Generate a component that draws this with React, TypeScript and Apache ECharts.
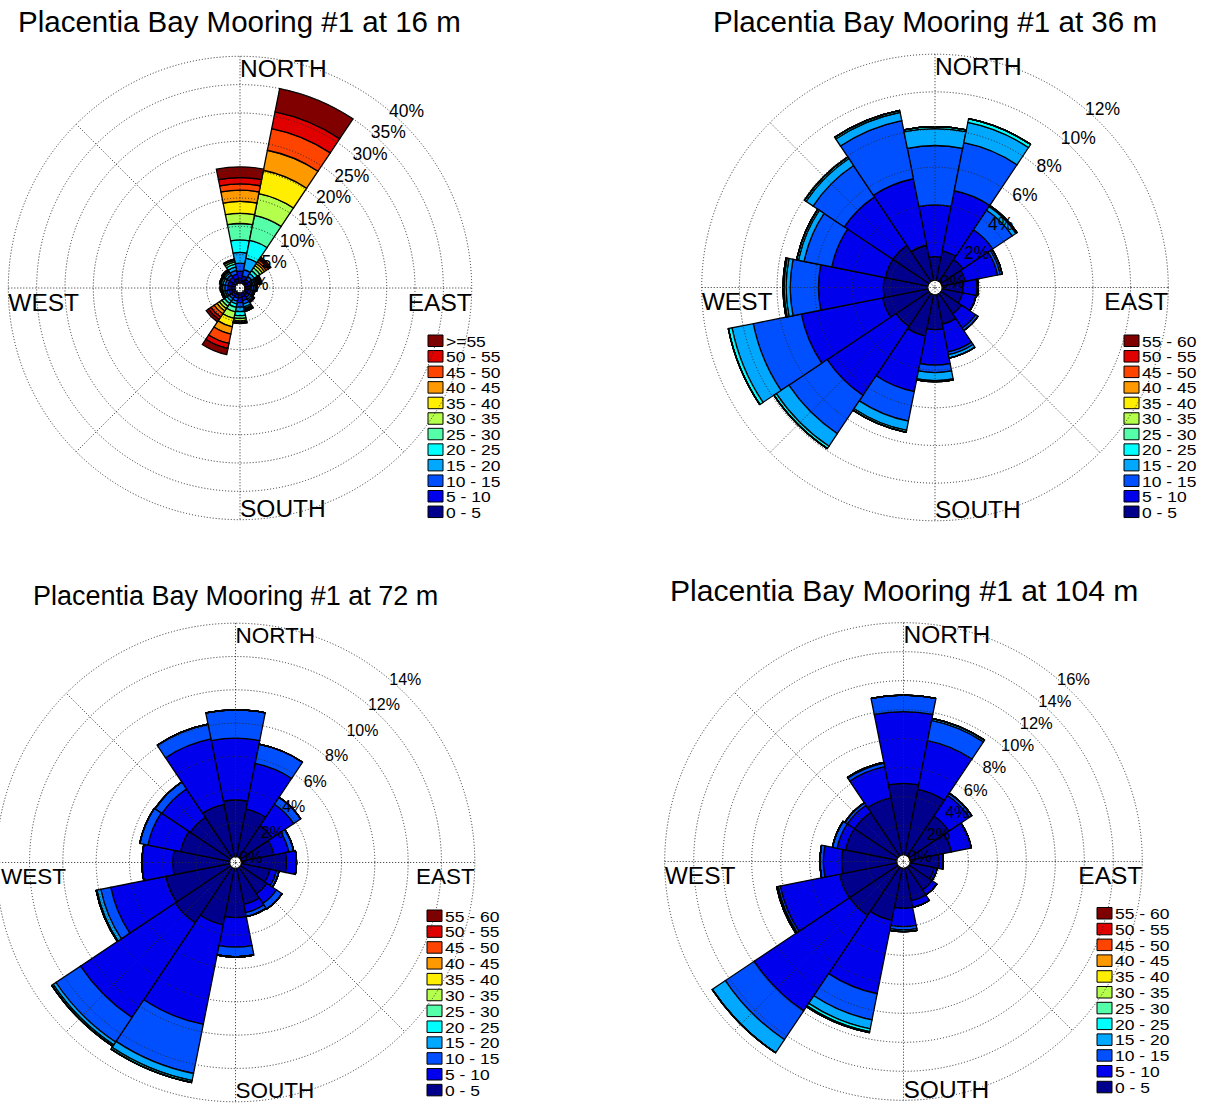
import React, { useEffect, useRef } from 'react';
import * as echarts from 'echarts';

// Compass sectors, clockwise from north (22.5° each)
const DIRECTIONS = ['N', 'NNE', 'NE', 'ENE', 'E', 'ESE', 'SE', 'SSE', 'S', 'SSW', 'SW', 'WSW', 'W', 'WNW', 'NW', 'NNW'];

// Current speed classes (cm/s)
const SPEED_BINS = ['0 - 5', '5 - 10', '10 - 15', '15 - 20', '20 - 25', '25 - 30', '30 - 35', '35 - 40', '40 - 45', '45 - 50', '50 - 55', '55 - 60'];
const SPEED_BINS_OPEN = ['0 - 5', '5 - 10', '10 - 15', '15 - 20', '20 - 25', '25 - 30', '30 - 35', '35 - 40', '40 - 45', '45 - 50', '50 - 55', '>=55'];

const BIN_COLORS = ['#00008c', '#0000ec', '#0050ff', '#00a8ff', '#00ffff', '#55ffaa', '#b4ff4c', '#ffee00', '#ff9900', '#ff4400', '#e00000', '#800000'];

// Occurrence (%) per direction (rows, N..NNW) and speed class (columns); missing classes are 0
const FREQ_16M = [
  [0.8, 1.3, 1.4, 1.9, 2.2, 2.9, 1.8, 2.1, 2.0, 1.1, 1.1, 1.9],
  [0.5, 0.8, 1.1, 2.1, 3.2, 4.5, 3.9, 4.2, 3.6, 3.9, 3.0, 4.2],
  [0.5, 0.5, 0.6, 0.6, 0.6, 0.6, 0.5, 0.4, 0.4, 0.4, 0.3, 0.3],
  [0.6, 0.5, 0.4, 0.3, 0.3, 0.2, 0.2, 0.2, 0.1, 0.1, 0.1, 0.1],
  [0.6, 0.5, 0.4, 0.3, 0.2, 0.1],
  [0.6, 0.5, 0.3, 0.2, 0.1, 0.1],
  [0.6, 0.5, 0.4, 0.3, 0.2, 0.1, 0.1],
  [0.7, 0.7, 0.6, 0.5, 0.3, 0.2, 0.1, 0.1, 0.1],
  [0.8, 0.9, 0.8, 0.8, 0.7, 0.5, 0.4, 0.2, 0.1, 0.1, 0.05, 0.05],
  [0.4, 0.5, 0.6, 0.5, 0.6, 0.8, 1.2, 1.5, 1.3, 1.7, 0.9, 1.1],
  [0.4, 0.5, 0.5, 0.5, 0.5, 0.6, 0.5, 0.5, 0.6, 0.7, 0.5, 0.5],
  [0.6, 0.5, 0.4, 0.3, 0.3, 0.2, 0.1, 0.1],
  [0.7, 0.6, 0.5, 0.4, 0.2, 0.1, 0.1],
  [0.7, 0.6, 0.5, 0.4, 0.3, 0.2, 0.1],
  [0.7, 0.7, 0.5, 0.4, 0.3, 0.2, 0.1, 0.1],
  [0.8, 0.8, 0.7, 0.6, 0.5, 0.4, 0.3, 0.2],
];

const FREQ_36M = [
  [1.25, 2.75, 3.15, 0.9, 0.1],
  [1.6, 3.25, 2.6, 1.1, 0.2],
  [1.4, 1.9, 1.25, 0.23, 0.07],
  [1.25, 1.75, 0.15, 0.1],
  [1.1, 0.75, 0.06],
  [1.1, 0.74],
  [1.3, 0.9, 0.16],
  [1.6, 1.5, 0.15, 0.18],
  [1.85, 1.88, 0.4, 0.43, 0.05],
  [2.24, 3.01, 1.6, 0.5, 0.1],
  [2.1, 4.4, 2.45, 0.8, 0.15],
  [2.45, 4.4, 2.6, 1.15, 0.2],
  [2.36, 3.44, 1.5, 0.22, 0.1, 0.06],
  [2.3, 2.9, 1.5, 0.3, 0.1],
  [2.3, 3.1, 2.0, 0.45, 0.1],
  [1.9, 3.6, 3.15, 0.45, 0.1],
];

const FREQ_72M = [
  [3.39, 3.71, 1.7],
  [2.9, 2.8, 1.18],
  [2.3, 1.55, 0.5],
  [2.0, 0.9, 0.3],
  [2.7, 0.6],
  [1.75, 0.4, 0.15],
  [1.9, 0.7, 0.4],
  [2.2, 0.5, 0.25],
  [2.95, 1.77, 0.58],
  [3.45, 6.1, 3.0, 0.43, 0.12],
  [4.0, 6.83, 1.77, 0.2, 0.1],
  [3.9, 3.37, 0.61, 0.24, 0.05],
  [3.4, 1.85],
  [3.0, 2.0, 0.5],
  [2.9, 2.05, 0.5],
  [3.2, 4.0, 0.9],
];

const FREQ_104M = [
  [4.92, 4.95, 1.13],
  [4.6, 3.43, 1.42, 0.15],
  [3.3, 1.7, 0.2],
  [2.9, 1.4],
  [2.0, 0.28],
  [1.7, 0.2],
  [1.9, 0.41],
  [2.3, 0.45],
  [2.76, 1.26, 0.23, 0.12],
  [3.67, 5.16, 1.84, 0.63, 0.2, 0.07],
  [4.01, 7.91, 2.39, 1.09],
  [4.03, 4.17, 0.15, 0.1],
  [3.8, 1.26, 0.23],
  [3.6, 0.6, 0.33],
  [3.6, 0.6, 0.2],
  [4.0, 2.2, 0.25, 0.05],
];

const FONT = '"Liberation Sans", Arial, Helvetica, sans-serif';

const PANELS = [
  {
    title: 'Placentia Bay Mooring #1 at 16 m', freq: FREQ_16M, bins: SPEED_BINS_OPEN, max: 40, step: 5,
    cx: 240, cy: 288, r0: 5, R: 231.7,
    titleX: 18, titleY: 21, titleSize: 29.5, capSize: 24.5, ringSize: 17.5,
    legendX: 428, legendY: 335, legendPitch: 15.55,
  },
  {
    title: 'Placentia Bay Mooring #1 at 36 m', freq: FREQ_36M, bins: SPEED_BINS, max: 12, step: 2,
    cx: 935, cy: 287.5, r0: 7.3, R: 233.3,
    titleX: 713, titleY: 21, titleSize: 29.6, capSize: 24.5, ringSize: 17.5,
    legendX: 1124, legendY: 335, legendPitch: 15.55,
  },
  {
    title: 'Placentia Bay Mooring #1 at 72 m', freq: FREQ_72M, bins: SPEED_BINS, max: 14, step: 2,
    cx: 235.5, cy: 862.5, r0: 6, R: 239.3,
    titleX: 33, titleY: 596, titleSize: 27, capSize: 22.5, ringSize: 16,
    legendX: 427, legendY: 910, legendPitch: 15.85,
  },
  {
    title: 'Placentia Bay Mooring #1 at 104 m', freq: FREQ_104M, bins: SPEED_BINS, max: 16, step: 2,
    cx: 903.5, cy: 861.5, r0: 6.8, R: 238.8,
    titleX: 670, titleY: 590, titleSize: 30.1, capSize: 24.5, ringSize: 16.5,
    legendX: 1097, legendY: 907.5, legendPitch: 15.8,
  },
];

const LEGEND_FONT = 15.2;
const GRID_STYLE = { stroke: '#2a2a2a', lineWidth: 1, lineDash: [1, 2] };

function text(x: number, y: number, str: string, size: number, align: string, z = 5, scaleX = 1) {
  return {
    type: 'text',
    x,
    y,
    z,
    scaleX,
    silent: true,
    style: {
      text: str,
      font: `${size}px ${FONT}`,
      fill: '#000',
      textAlign: align,
      textVerticalAlign: 'middle',
      align,
      verticalAlign: 'middle',
    },
  };
}

function buildOption() {
  const polar: any[] = [];
  const angleAxis: any[] = [];
  const radiusAxis: any[] = [];
  const series: any[] = [];
  const elements: any[] = [];

  PANELS.forEach((p, i) => {
    polar.push({ center: [p.cx, p.cy], radius: [p.r0, p.R] });
    angleAxis.push({
      polarIndex: i,
      type: 'category',
      data: DIRECTIONS,
      startAngle: 90 + 360 / DIRECTIONS.length / 2,
      clockwise: true,
      boundaryGap: true,
      axisLine: { show: false },
      axisTick: { show: false },
      axisLabel: { show: false },
      splitLine: { show: false },
    });
    radiusAxis.push({
      polarIndex: i,
      type: 'value',
      min: 0,
      max: p.max,
      interval: p.step,
      z: 10,
      axisLine: { show: false },
      axisTick: { show: false },
      axisLabel: { show: false },
      splitLine: { show: true, lineStyle: { color: '#2a2a2a', width: 1, type: [1, 2] } },
    });

    p.bins.forEach((name, b) => {
      series.push({
        type: 'bar',
        coordinateSystem: 'polar',
        polarIndex: i,
        stack: 'rose' + i,
        name,
        barCategoryGap: '0%',
        z: 2,
        data: p.freq.map((row) => row[b] ?? 0),
        itemStyle: { color: BIN_COLORS[b], borderColor: '#000', borderWidth: 1.3 },
        emphasis: { disabled: true },
      });
    });

    // spokes: N–S and E–W diameters plus NW, SW, SE radii
    elements.push({ type: 'line', z: 10, silent: true, shape: { x1: p.cx, y1: p.cy - p.R, x2: p.cx, y2: p.cy + p.R }, style: GRID_STYLE });
    elements.push({ type: 'line', z: 10, silent: true, shape: { x1: p.cx - p.R, y1: p.cy, x2: p.cx + p.R, y2: p.cy }, style: GRID_STYLE });
    [225, 315, 135].forEach((deg) => {
      const a = (deg * Math.PI) / 180;
      elements.push({
        type: 'line', z: 10, silent: true,
        shape: { x1: p.cx, y1: p.cy, x2: p.cx + p.R * Math.sin(a), y2: p.cy - p.R * Math.cos(a) },
        style: GRID_STYLE,
      });
    });

    // ring percentages along the 40° bearing, drawn over the petals
    const lab = (40 * Math.PI) / 180;
    for (let v = 0; v <= p.max; v += p.step) {
      const r = p.r0 + ((p.R - p.r0) * v) / p.max;
      elements.push(text(p.cx + r * Math.sin(lab), p.cy - r * Math.cos(lab), `${v}%`, p.ringSize, 'left', 11));
    }

    // compass labels
    elements.push(text(p.cx, p.cy - p.R + 12, 'NORTH', p.capSize, 'left'));
    elements.push(text(p.cx, p.cy + p.R - 11, 'SOUTH', p.capSize, 'left'));
    elements.push(text(Math.max(1, p.cx - p.R), p.cy + 14, 'WEST', p.capSize, 'left'));
    elements.push(text(p.cx + p.R, p.cy + 14, 'EAST', p.capSize, 'right'));

    // title
    elements.push(text(p.titleX, p.titleY, p.title, p.titleSize, 'left'));

    // speed legend, highest class on top
    const n = p.bins.length;
    for (let k = 0; k < n; k++) {
      const b = n - 1 - k;
      const top = p.legendY + k * p.legendPitch;
      elements.push({
        type: 'rect', z: 5, silent: true,
        shape: { x: p.legendX, y: top, width: 15, height: 11.5 },
        style: { fill: BIN_COLORS[b], stroke: '#000', lineWidth: 1 },
      });
      elements.push(text(p.legendX + 18, top + 6, p.bins[b], LEGEND_FONT, 'left', 5, 1.15));
    }
  });

  return {
    animation: false,
    backgroundColor: '#ffffff',
    polar,
    angleAxis,
    radiusAxis,
    series,
    graphic: { elements },
  };
}

export default function App() {
  const ref = useRef<HTMLDivElement>(null);

  useEffect(() => {
    if (!ref.current) return;
    const chart = echarts.init(ref.current, undefined, { renderer: 'svg' });
    chart.setOption(buildOption() as any);
    return () => chart.dispose();
  }, []);

  return (
    <div
      ref={ref}
      style={{ position: 'absolute', left: 0, top: 0, width: 1205, height: 1103, background: '#fff' }}
    />
  );
}
